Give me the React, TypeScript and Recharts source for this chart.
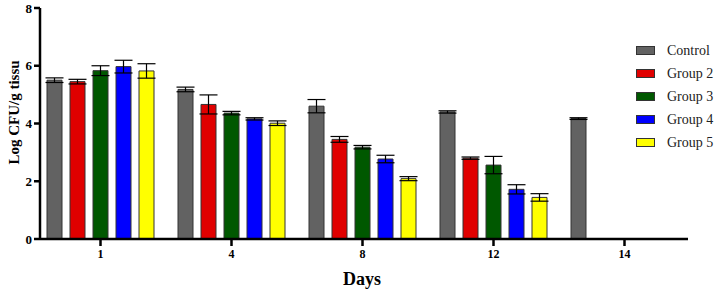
import { BarChart, Bar, XAxis, YAxis, ErrorBar } from "recharts";

const days = ["1", "4", "8", "12", "14"];

const control = [5.5, 5.18, 4.6, 4.4, 4.17];
const controlErr = [0.08, 0.08, 0.23, 0.04, 0.03];
const group2 = [5.45, 4.66, 3.45, 2.8, null];
const group2Err = [0.08, 0.33, 0.1, 0.04, null];
const group3 = [5.83, 4.36, 3.18, 2.56, null];
const group3Err = [0.17, 0.06, 0.06, 0.3, null];
const group4 = [5.97, 4.16, 2.77, 1.72, null];
const group4Err = [0.22, 0.04, 0.13, 0.16, null];
const group5 = [5.82, 4.01, 2.09, 1.44, null];
const group5Err = [0.25, 0.08, 0.07, 0.13, null];

const yTicks = [0, 2, 4, 6, 8];

const series = [
  { key: "control", name: "Control", fill: "#626262", values: control, errs: controlErr },
  { key: "g2", name: "Group 2", fill: "#e00000", values: group2, errs: group2Err },
  { key: "g3", name: "Group 3", fill: "#005800", values: group3, errs: group3Err },
  { key: "g4", name: "Group 4", fill: "#0000ff", values: group4, errs: group4Err },
  { key: "g5", name: "Group 5", fill: "#ffff00", values: group5, errs: group5Err },
];

const data = days.map((day, i) => {
  const row: any = { day };
  series.forEach((s) => {
    row[s.key] = s.values[i];
    row[s.key + "Err"] = s.errs[i];
  });
  return row;
});

const FONT = "Liberation Serif";

const YLabel = ({ viewBox }: any) => {
  const x = viewBox.x + 12;
  const y = viewBox.y + viewBox.height / 2 - 11;
  return (
    <text
      x={x}
      y={y}
      transform={`rotate(-90 ${x} ${y})`}
      textAnchor="middle"
      dominantBaseline="central"
      style={{ fontFamily: FONT, fontWeight: "bold", fontSize: 15 }}
      fill="#000"
    >
      Log CFU/g tissu
    </text>
  );
};

const XLabel = ({ viewBox }: any) => (
  <text
    x={viewBox.x + viewBox.width / 2 - 2}
    y={viewBox.y + 46}
    textAnchor="middle"
    style={{ fontFamily: FONT, fontWeight: "bold", fontSize: 18 }}
    fill="#000"
  >
    Days
  </text>
);

const tickStyle = { fontFamily: FONT, fontWeight: "bold", fontSize: 13, fill: "#000" };

export default function App() {
  return (
    <div style={{ position: "absolute", left: 0, top: 0, width: 715, height: 295, background: "#fff", fontFamily: FONT }}>
      <BarChart
        width={715}
        height={295}
        data={data}
        margin={{ top: 8, right: 27, bottom: 26, left: 2 }}
        barSize={15}
        barGap={8}
        style={{ fontFamily: FONT }}
      >
        <XAxis
          dataKey="day"
          height={30}
          padding={{ left: -5, right: -2 }}
          axisLine={{ stroke: "#000", strokeWidth: 2.5 }}
          tickLine={{ stroke: "#000", strokeWidth: 2.5 }}
          tickSize={7}
          tickMargin={3}
          tick={{ ...tickStyle, fontSize: 12 }}
          label={<XLabel />}
        />
        <YAxis
          width={38}
          domain={[0, 8]}
          ticks={yTicks}
          interval={0}
          axisLine={{ stroke: "#000", strokeWidth: 2.5 }}
          tickLine={{ stroke: "#000", strokeWidth: 2.5 }}
          tickSize={6}
          tickMargin={2}
          tick={tickStyle}
          label={<YLabel />}
        />
        {series.map((s) => (
          <Bar
            key={s.key}
            dataKey={s.key}
            name={s.name}
            fill={s.fill}
            stroke="#333"
            strokeWidth={1}
            isAnimationActive={false}
          >
            <ErrorBar dataKey={s.key + "Err"} width={9} stroke="#000" strokeWidth={1.2} />
          </Bar>
        ))}
      </BarChart>
      <div style={{ position: "absolute", left: 636, top: 39, fontFamily: FONT, fontSize: 14, color: "#222" }}>
        {series.map((s) => (
          <div key={s.key} style={{ display: "flex", alignItems: "center", height: 23 }}>
            <span
              style={{
                display: "inline-block",
                width: 17,
                height: 7,
                background: s.fill,
                border: "1px solid #333",
                marginRight: 12,
              }}
            />
            {s.name}
          </div>
        ))}
      </div>
    </div>
  );
}
